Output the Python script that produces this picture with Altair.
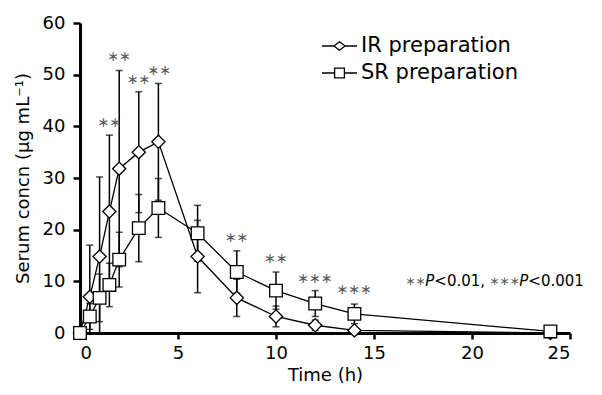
import altair as alt
import pandas as pd

# ---- data ----
time = [0, 0.5, 1, 1.5, 2, 3, 4, 6, 8, 10, 12, 14, 24]
ir_mean = [0, 7.0, 14.8, 23.5, 31.8, 35.0, 37.0, 14.8, 6.8, 3.2, 1.5, 0.5, 0.0]
ir_sd = [0, 10.0, 15.4, 14.8, 19.0, 11.7, 11.3, 7.0, 3.6, 2.0, 1.0, 0.5, 0]
sr_mean = [0, 3.2, 6.8, 9.3, 14.2, 20.3, 24.2, 19.3, 11.8, 8.2, 5.7, 3.7, 0.3]
sr_sd = [0, 2.5, 4.6, 4.2, 5.3, 6.5, 5.7, 5.4, 4.1, 3.6, 2.5, 1.9, 0]

series_names = ["IR preparation", "SR preparation"]

star_time = [1.5, 2, 3, 4.05, 8, 10, 12, 14]
star_y = [40.6, 53.4, 49.0, 50.8, 18.4, 14.3, 10.4, 8.3]
star_text = ["∗∗", "∗∗", "∗∗", "∗∗", "∗∗", "∗∗", "∗∗∗", "∗∗∗"]

note_pieces = ["∗∗", "P", "<0.01,", "∗∗∗", "P", "<0.001"]
note_dx = [10, 20, 29, 99, 114, 123]
note_align = ["center", "left", "left", "center", "left", "left"]
note_italic = [False, True, False, False, True, False]
note_star = [True, False, False, True, False, False]
note_x = 16.6
note_y = 10.1

x_ticks = [0, 5, 10, 15, 20, 25]
y_ticks = [0, 10, 20, 30, 40, 50, 60]

# ---- tables ----
rows = []
for name, means, sds in [(series_names[0], ir_mean, ir_sd), (series_names[1], sr_mean, sr_sd)]:
    for t, m, s in zip(time, means, sds):
        rows.append({"series": name, "time": t, "value": m,
                     "lo": max(m - s, 0.0), "hi": m + s, "sd": s})
df = pd.DataFrame(rows)
df_err = df[df["sd"] > 0]
df_lo_cap = df_err[df_err["lo"] > 0]

df_star = pd.DataFrame({"time": star_time, "value": star_y, "txt": star_text})
df_note = pd.DataFrame({"time": [note_x] * len(note_pieces), "value": [note_y] * len(note_pieces),
                        "txt": note_pieces})

FONT = "DejaVu Sans"
STAR_GREY = "#5a5a5a"

xs = alt.X("time:Q", scale=alt.Scale(domain=[0, 25], nice=False),
           axis=alt.Axis(values=x_ticks, title="Time (h)", format="d"))
ys = alt.Y("value:Q", scale=alt.Scale(domain=[0, 60], nice=False),
           axis=alt.Axis(values=y_ticks, title="Serum concn (μg mL⁻¹)", format="d"))

lines = alt.Chart(df).mark_line(color="black", strokeWidth=1.3).encode(
    x=xs, y=ys, detail="series:N")

err = alt.Chart(df_err).mark_rule(color="black", strokeWidth=1.5).encode(
    x="time:Q", y="lo:Q", y2="hi:Q")
cap_hi = alt.Chart(df_err).mark_tick(color="black", orient="horizontal", size=7, thickness=1.5).encode(
    x="time:Q", y="hi:Q")
cap_lo = alt.Chart(df_lo_cap).mark_tick(color="black", orient="horizontal", size=7, thickness=1.5).encode(
    x="time:Q", y="lo:Q")

pts_ir = alt.Chart(df[df["series"] == series_names[0]]).mark_point(
    shape="diamond", filled=True, fill="white", stroke="black", strokeWidth=1.3, size=175, opacity=1
).encode(x="time:Q", y="value:Q")
pts_sr = alt.Chart(df[df["series"] == series_names[1]]).mark_point(
    shape="square", filled=True, fill="white", stroke="black", strokeWidth=1.3, size=160, opacity=1
).encode(x="time:Q", y="value:Q")

stars = alt.Chart(df_star).mark_text(font="DejaVu Sans", fontSize=14, color=STAR_GREY).encode(
    x="time:Q", y="value:Q", text="txt:N")

note_layers = []
for i, piece in enumerate(note_pieces):
    note_layers.append(
        alt.Chart(df_note.iloc[[i]]).mark_text(
            align=note_align[i], baseline="middle", dx=note_dx[i],
            font=FONT,
            fontSize=12 if note_star[i] else 15,
            fontStyle="italic" if note_italic[i] else "normal",
            color=STAR_GREY if note_star[i] else "black",
        ).encode(x="time:Q", y="value:Q", text="txt:N")
    )

path_ir = "M-2.5,0L-0.8,0M0.8,0L2.5,0M-0.8,0L0,-0.6L0.8,0L0,0.6Z"
path_sr = "M-2.5,0L-0.7,0M0.7,0L2.5,0M-0.7,-0.7L0.7,-0.7L0.7,0.7L-0.7,0.7Z"
# legend-only points, placed outside the x domain and clipped away
df_leg = pd.DataFrame({"series": series_names, "time": [-50, -50], "value": [0, 0]})
legend_layer = alt.Chart(df_leg).mark_point(
    filled=False, color="black", strokeWidth=1.3, clip=True
).encode(
    x="time:Q", y="value:Q",
    shape=alt.Shape("series:N", scale=alt.Scale(domain=series_names, range=[path_ir, path_sr]),
                    legend=alt.Legend(orient="none", legendX=249, legendY=12.5, title=None,
                                      symbolSize=196, symbolStrokeWidth=1.3,
                                      symbolStrokeColor="black", symbolOpacity=1,
                                      labelFont=FONT, labelFontSize=21,
                                      labelColor="black", labelOffset=11, rowPadding=5)),
)

chart = alt.layer(lines, err, cap_hi, cap_lo, pts_ir, pts_sr, stars, *note_layers, legend_layer).properties(
    width=490, height=310,
    autosize=alt.AutoSizeParams(type="none"),
    padding={"left": 72, "top": 15, "right": 24, "bottom": 54},
).configure_view(stroke=None).configure_axis(
    grid=False, labelFont=FONT, titleFont=FONT, labelFontSize=18, titleFontSize=18,
    titleFontWeight="normal", labelColor="black", titleColor="black",
    domainColor="black", tickColor="black", domainWidth=3, tickWidth=2.5, tickSize=7,
    labelPadding=8,
).configure_axisY(titlePadding=10).configure_axisX(titlePadding=4, tickSize=6, labelPadding=5)

chart.save("out.html", embed_options={"renderer": "svg", "actions": False})
